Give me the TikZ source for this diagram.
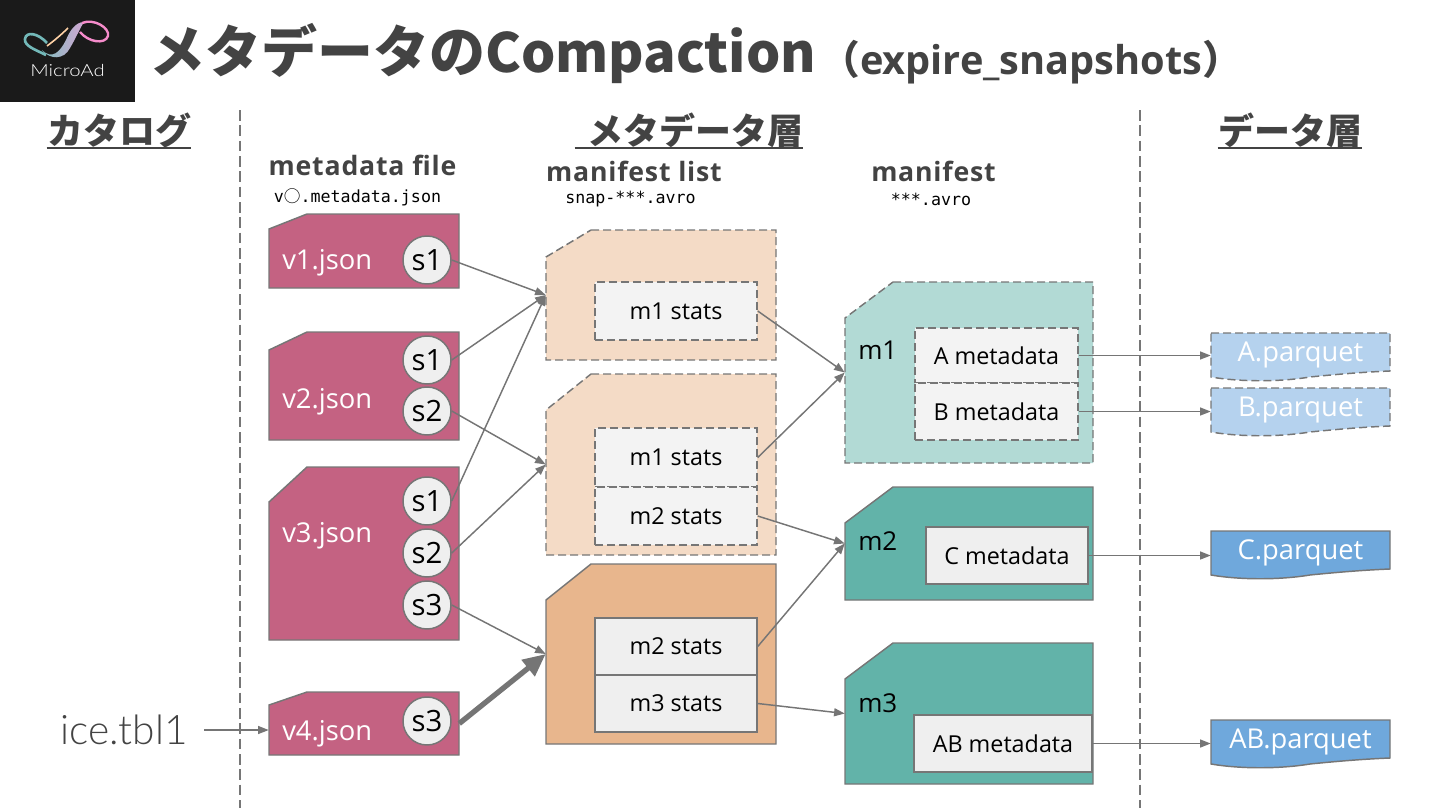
\documentclass[tikz,border=0pt]{standalone}
\usepackage{fontspec}
\setmainfont{Open Sans}
\newfontfamily\jpfont{Noto Sans CJK JP}
\newfontfamily\thinfont{Lato Light}
\newfontfamily\fixfont{DejaVu Sans Mono}
\usetikzlibrary{arrows.meta,calc}
\definecolor{SlideInk}{HTML}{434343}
\definecolor{SlideEdge}{HTML}{767676}
\definecolor{SlideLine}{HTML}{757575}
\definecolor{SlideRose}{HTML}{C46282}
\definecolor{SlideSand}{HTML}{F4DBC6}
\definecolor{SlideTan}{HTML}{E8B68D}
\definecolor{SlideMint}{HTML}{B2DAD5}
\definecolor{SlideTeal}{HTML}{62B3A9}
\definecolor{SlideSky}{HTML}{B5D2EE}
\definecolor{SlideBlue}{HTML}{6FA8DC}
\definecolor{SlideCell}{HTML}{EFEFEF}
\definecolor{SlidePale}{HTML}{F3F3F3}
\definecolor{SlideLogo}{HTML}{1A1A1A}
\tikzset{
  every node/.style={text=SlideInk, inner sep=0pt},
  snipcard/.style={draw=SlideEdge, line width=1.1pt},
  gone/.style={dash pattern=on 6pt off 3pt},
  vcard/.style={snipcard, fill=SlideRose},
  listold/.style={snipcard, gone, fill=SlideSand},
  listnew/.style={snipcard, fill=SlideTan},
  mold/.style={snipcard, gone, fill=SlideMint},
  mnew/.style={snipcard, fill=SlideTeal},
  pqold/.style={snipcard, gone, fill=SlideSky},
  pqnew/.style={snipcard, fill=SlideBlue},
  cell/.style={rectangle, draw=SlideEdge, line width=1.1pt, fill=SlideCell, text=black, font=\fontsize{17.5}{20}\selectfont},
  cellold/.style={cell, fill=SlidePale, gone},
  snapdot/.style={circle, draw=SlideEdge, line width=1.1pt, fill=SlideCell, text=black, minimum size=36pt, font=\fontsize{22}{24}\selectfont},
  cardname/.style={anchor=west, text=white, font=\fontsize{20.5}{22}\selectfont},
  mname/.style={anchor=west, text=black, font=\fontsize{19.5}{22}\selectfont},
  pqname/.style={text=white, font=\fontsize{20.5}{22}\selectfont},
  head/.style={font=\jpfont\bfseries\fontsize{27}{30}\selectfont},
  subhead/.style={font=\bfseries\fontsize{20}{24}\selectfont\addfontfeature{LetterSpace=3}},
  fname/.style={text=black, font=\fixfont\fontsize{12.5}{14}\selectfont},
  rule/.style={draw=SlideEdge, line width=1.5pt, dash pattern=on 8pt off 3.5pt},
  link/.style={-{Triangle[length=8pt,width=6pt]}, draw=SlideLine, line width=1.1pt},
  biglink/.style={-{Triangle[length=17pt,width=15pt]}, draw=SlideLine, line width=4pt},
}
% box from its corners, in pixels of the slide
\newcommand{\card}[7]{%
  \pgfmathsetmacro\cardw{(#5-#3)*0.75}
  \pgfmathsetmacro\cardh{(#6-#4)*0.75}
  \node[#2, minimum width=\cardw pt, minimum height=\cardh pt] (#1) at ({(#3+#5)/2},{(#4+#6)/2}) {#7};
}
% same, with the top left corner cut off
\newcommand{\snip}[8]{%
  \path[#2] (#3+#7,#4) -- (#5,#4) -- (#5,#6) -- (#3,#6) -- (#3,#4+#8) -- cycle;
  \card{#1}{rectangle}{#3}{#4}{#5}{#6}{}
}
% parquet file with a wavy lower edge
\newcommand{\parquet}[4]{%
  \path[#2] (1211,#3) -- (1390,#3) -- (1390,#3+38) .. controls (1365,#3+39) and (1340,#3+41) .. (1310,#3+44) .. controls (1280,#3+49) and (1240,#3+49) .. (1211,#3+44) -- cycle;
  \node[minimum width=134.25pt, minimum height=34.5pt] (#1) at (1300.5,#3+23) {};
  \node[pqname] (#1name) at (1300.5,#3+22) {#4};
}
\begin{document}
\begin{tikzpicture}[x=0.75pt,y=-0.75pt]
  \useasboundingbox (0,0) rectangle (1440,810);
  % logo
  \fill[SlideLogo] (0,0) rectangle (135,102);
  \draw[line width=2pt, draw=teal!55!white] (46,55) .. controls (36,50) and (24,46) .. (25,39) .. controls (26,31) and (38,33) .. (47,43);
  \draw[line width=1.2pt, draw=orange!35!white] (47,46) .. controls (55,40) and (62,34) .. (68,28);
  \shade[left color=teal!50!white, right color=violet!35!white] (42,50) .. controls (52,60) and (60,52) .. (66,40) .. controls (70,30) and (76,22) .. (84,22) .. controls (80,28) and (76,38) .. (70,48) .. controls (64,60) and (50,60) .. (42,50) -- cycle;
  \draw[line width=1.8pt, draw=magenta!45!white] (82,23) .. controls (94,18) and (110,28) .. (108,36) .. controls (105,45) and (88,42) .. (80,32);
  \node[text=white, xscale=1.22, font=\thinfont\fontsize{12.5}{13}\selectfont] (brand) at (67.5,70) {MicroAd};
  % title
  \node[anchor=west, font=\jpfont\bfseries\fontsize{42}{46}\selectfont] (title) at (149,54) {メタデータの\fontsize{40.5}{46}\selectfont Compaction};
  \node[anchor=west, font=\bfseries\fontsize{29.8}{32}\selectfont] (subtitle) at (820,62) {{\jpfont\bfseries （}expire\_snapshots{\jpfont\bfseries ）}};
  % column heads and layer rules
  \node[head] (cathead) at (119,130) {カタログ};
  \node[head] (metahead) at (689,130) {\hspace*{9pt}メタデータ層};
  \node[head] (datahead) at (1290,130) {データ層};
  \foreach \h in {cathead,metahead,datahead}
    \draw[draw=SlideInk, line width=1.5pt] (\h.south west) -- (\h.south east);
  \coordinate (ruleatop) at (239.5,110);
  \coordinate (ruleabot) at (239.5,808);
  \coordinate (rulebtop) at (1139.5,110);
  \coordinate (rulebbot) at (1139.5,808);
  \draw[rule] (ruleatop) -- (ruleabot);
  \draw[rule] (rulebtop) -- (rulebbot);
  \node[subhead] (filehead) at (362.5,165) {metadata file};
  \node[fname] (filename) at (357.5,197) {v{\jpfont ○}.metadata.json};
  \node[subhead] (listhead) at (634,171) {manifest list};
  \node[fname] (listname) at (630.5,199) {snap-***.avro};
  \node[subhead] (manhead) at (933.5,171) {manifest};
  \node[fname] (manname) at (931,199) {***.avro};
  % metadata files
  \snip{v1}{vcard}{269}{214}{459}{288}{38}{15}
  \snip{v2}{vcard}{269}{332}{459}{440}{38}{18}
  \snip{v3}{vcard}{269}{467}{459}{640}{38}{35}
  \snip{v4}{vcard}{269}{692}{459}{755}{38}{13}
  \foreach \n/\y in {v1/263, v2/402, v3/536, v4/734}
    \node[cardname] (\n name) at (282,\y) {\n.json};
  \foreach \n/\t/\y in {va/s1/260, vb/s1/360, vc/s2/411, vd/s1/501, ve/s2/553, vf/s3/605, vg/s3/721}
    \node[snapdot] (\n) at (427,\y) {\t};
  % manifest lists
  \snip{la}{listold}{546}{230}{776}{360}{45}{27}
  \snip{lb}{listold}{546}{374}{776}{555}{45}{36}
  \snip{lc}{listnew}{546}{564}{776}{744}{45}{36}
  \card{la1}{cellold}{595}{282}{757}{340}{m1 stats}
  \card{lb1}{cellold}{595}{428}{757}{487}{m1 stats}
  \card{lb2}{cellold}{595}{487}{757}{545}{m2 stats}
  \card{lc2}{cell}{595}{618}{757}{675}{m2 stats}
  \card{lc3}{cell}{595}{675}{757}{732}{m3 stats}
  % manifests
  \snip{ma}{mold}{845}{282}{1093}{463}{48}{36}
  \snip{mb}{mnew}{845}{487}{1093}{600}{48}{36}
  \snip{mc}{mnew}{845}{643}{1093}{784}{48}{36}
  \foreach \n/\t/\y in {ma/m1/350, mb/m2/541, mc/m3/703}
    \node[mname] (\n name) at (858,\y) {\t};
  \card{ca}{cellold}{915}{328}{1078}{383}{A metadata}
  \card{cb}{cellold}{915}{383}{1078}{440}{B metadata}
  \card{cc}{cell}{926}{527}{1088}{584}{C metadata}
  \card{cd}{cell}{914}{715}{1092}{772}{AB metadata}
  % data files
  \parquet{pa}{pqold}{333}{A.parquet}
  \parquet{pb}{pqold}{388}{B.parquet}
  \parquet{pc}{pqnew}{531}{C.parquet}
  \parquet{pd}{pqnew}{720}{AB.parquet}
  % catalog pointer
  \node[anchor=west, font=\thinfont\fontsize{30.5}{32}\selectfont] (ice) at (60,730) {ice.tbl1};
  \coordinate (icetail) at (204,730);
  \draw[link] (icetail) -- (icetail -| v4.west);
  % links
  \foreach \a/\b in {va/la, vb/la, vd/la, vc/lb, ve/lb, vf/lc}
    \draw[link] (\a.east) -- (\b.west);
  \draw[biglink] (v4.east) -- (lc.west);
  \foreach \a/\b in {la1/ma, lb1/ma, lb2/mb, lc2/mb, lc3/mc}
    \draw[link] (\a.east) -- (\b.west);
  \foreach \a/\b in {ca/pa, cb/pb, cc/pc, cd/pd}
    \draw[link] (\a.east) -- (\a.east -| \b.west);
\end{tikzpicture}
\end{document}
